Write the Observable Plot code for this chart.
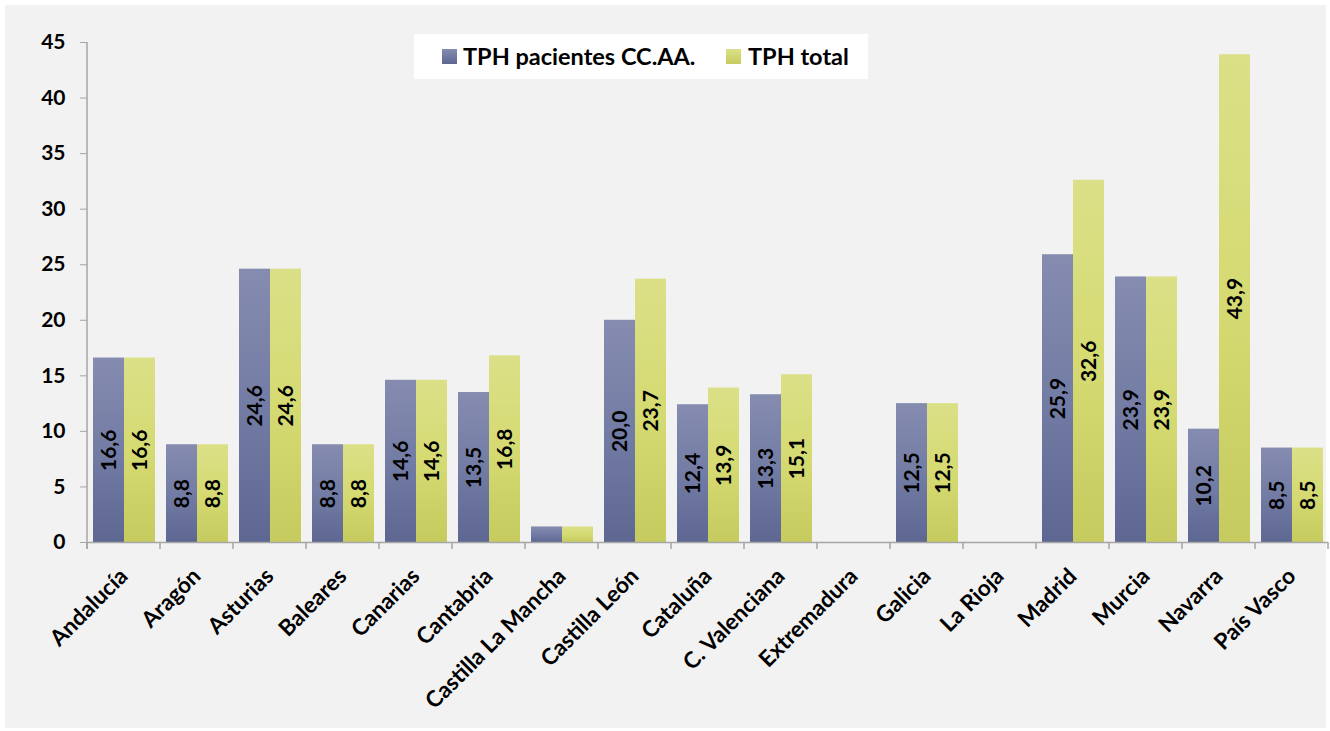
<!DOCTYPE html>
<html><head><meta charset="utf-8">
<script src="https://cdn.jsdelivr.net/npm/d3@7"></script>
<script src="https://cdn.jsdelivr.net/npm/@observablehq/plot@0.6"></script>
<style>
body{margin:0;background:#fff;font-family:Lato,sans-serif;}
#wrap{position:relative;width:1330px;height:731px;overflow:hidden;}
#bg{position:absolute;left:5px;top:5px;width:1321px;height:723px;background:#f2f2f2;}
#chart{position:absolute;left:0;top:0;}
#legend{position:absolute;left:414px;top:34px;width:454px;height:45px;background:#fff;font-weight:bold;font-size:23.5px;color:#000;}
.sw{position:absolute;top:15px;width:15px;height:15px;}
.lt{position:absolute;top:8px;line-height:28px;white-space:nowrap;}
</style>
</head><body>
<svg width="0" height="0" style="position:absolute">
<defs>
<linearGradient id="gBlue" x1="0" y1="0" x2="0" y2="1">
<stop offset="0" stop-color="#868cb0"/><stop offset="0.5" stop-color="#737ca4"/><stop offset="1" stop-color="#5d6792"/>
</linearGradient>
<linearGradient id="gGreen" x1="0" y1="0" x2="0" y2="1">
<stop offset="0" stop-color="#dbe088"/><stop offset="0.5" stop-color="#d5da72"/><stop offset="1" stop-color="#c6cb5f"/>
</linearGradient>
</defs>
</svg>
<div id="wrap">
<div id="bg"></div>
<div id="chart"></div>
<div id="legend">
<div class="sw" style="left:28px;background:linear-gradient(#868cb0,#5d6792)"></div>
<div class="lt" style="left:49px">TPH pacientes CC.AA.</div>
<div class="sw" style="left:312px;background:linear-gradient(#dbe088,#c6cb5f)"></div>
<div class="lt" style="left:334px">TPH total</div>
</div>
</div>
<script>
const regions = ["Andalucía","Aragón","Asturias","Baleares","Canarias","Cantabria","Castilla La Mancha","Castilla León","Cataluña","C. Valenciana","Extremadura","Galicia","La Rioja","Madrid","Murcia","Navarra","País Vasco"];
const seriesNames = ["TPH pacientes CC.AA.","TPH total"];
const pacientes = [16.6,8.8,24.6,8.8,14.6,13.5,1.4,20.0,12.4,13.3,0,12.5,0,25.9,23.9,10.2,8.5];
const total = [16.6,8.8,24.6,8.8,14.6,16.8,1.4,23.7,13.9,15.1,0,12.5,0,32.6,23.9,43.9,8.5];
const yTicks = [0,5,10,15,20,25,30,35,40,45];

const data = regions.flatMap((r,i)=>[
  {region:r, series:seriesNames[0], value:pacientes[i]},
  {region:r, series:seriesNames[1], value:total[i]}
]);
const fmt = v => v.toFixed(1).replace(".", ",");
const axisColor = "#a6a6a6";

const chart = Plot.plot({
  width:1330, height:731,
  marginLeft:85, marginRight:0, marginTop:42, marginBottom:189,
  style:{background:"transparent", fontFamily:"Lato, sans-serif", fontWeight:"bold", fontSize:"21px", color:"#000", overflow:"visible"},
  fx:{domain:regions, padding:0, label:null, tickRotate:-45, tickSize:0, tickPadding:30},
  x:{domain:seriesNames, paddingInner:0, paddingOuter:0.16, axis:null},
  y:{domain:[0,45], ticks:yTicks, tickSize:7, tickPadding:15, label:null},
  marks:[
    Plot.barY(data.filter(d=>d.series===seriesNames[0]), {fx:"region", x:"series", y:"value", fill:"url(#gBlue)"}),
    Plot.barY(data.filter(d=>d.series===seriesNames[1]), {fx:"region", x:"series", y:"value", fill:"url(#gGreen)"}),
    Plot.ruleY([0], {stroke:axisColor, strokeWidth:1.5}),
    Plot.text(data.filter(d=>d.value>2), {fx:"region", x:"series", y:d=>d.value/2, text:d=>fmt(d.value), rotate:-90, fontSize:21, fontWeight:"bold", fill:"#000"})
  ]
});
document.getElementById("chart").appendChild(chart);

// axis line and category boundary ticks using the plot's own scales
const fx = chart.scale("fx"), ys = chart.scale("y");
const svg = d3.select(chart);
svg.selectAll("[aria-label='fx-axis tick label']").attr("font-size", 22.5);
svg.selectAll("[aria-label='y-axis tick'] path, [aria-label='y-axis tick']").attr("stroke", axisColor);
const g = svg.append("g").attr("stroke", axisColor).attr("stroke-width", 1.5);
const x0 = fx.apply(regions[0]);
g.append("line").attr("x1", x0).attr("x2", x0).attr("y1", ys.apply(45)).attr("y2", ys.apply(0) + 7);
const edges = regions.map(r => fx.apply(r)).concat([fx.apply(regions[regions.length-1]) + fx.step]);
edges.forEach(e => g.append("line").attr("x1", e).attr("x2", e).attr("y1", ys.apply(0)).attr("y2", ys.apply(0) + 7));
</script>
</body></html>
